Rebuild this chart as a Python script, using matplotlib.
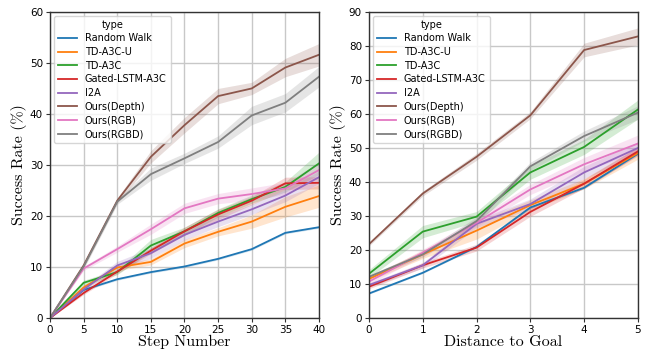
import matplotlib
matplotlib.use("Agg")
import matplotlib.pyplot as plt
import numpy as np

names = ["Random Walk", "TD-A3C-U", "TD-A3C", "Gated-LSTM-A3C", "I2A",
         "Ours(Depth)", "Ours(RGB)", "Ours(RGBD)"]
colors = ["#1f77b4", "#ff7f0e", "#2ca02c", "#d62728", "#9467bd",
          "#8c564b", "#e377c2", "#7f7f7f"]

# Left panel: success rate vs step number
steps = [0, 5, 10, 15, 20, 25, 30, 35, 40]
step_rw = [0, 5.5, 7.6, 9.0, 10.1, 11.6, 13.5, 16.7, 17.8]
step_tdu = [0, 6.0, 9.9, 11.0, 14.6, 16.9, 18.9, 21.8, 23.9]
step_td = [0, 6.9, 9.0, 14.2, 17.0, 20.6, 23.3, 25.7, 30.3]
step_gated = [0, 4.9, 9.1, 13.2, 17.0, 20.3, 23.0, 26.4, 26.5]
step_i2a = [0, 5.6, 10.3, 12.7, 16.3, 18.9, 21.3, 24.0, 27.6]
step_depth = [0, 10.3, 23.0, 31.6, 37.8, 43.5, 45.0, 49.1, 51.6]
step_rgb = [0, 9.7, 13.5, 17.4, 21.5, 23.4, 24.3, 25.4, 29.0]
step_rgbd = [0, 10.1, 22.8, 28.2, 31.3, 34.5, 39.7, 42.2, 47.3]

step_rw_err = [0, 0.2, 0.2, 0.2, 0.2, 0.2, 0.2, 0.2, 0.2]
step_tdu_err = [0, 0.4, 0.6, 0.6, 0.8, 0.8, 1.3, 2.0, 2.2]
step_td_err = [0, 0.5, 0.5, 1.2, 0.8, 0.8, 0.8, 1.0, 2.2]
step_gated_err = [0, 0.3, 0.4, 0.6, 0.8, 1.0, 0.8, 1.2, 1.2]
step_i2a_err = [0, 0.5, 0.8, 1.0, 1.0, 1.0, 1.0, 1.2, 1.2]
step_depth_err = [0, 0.5, 0.5, 1.2, 1.5, 1.5, 1.2, 1.8, 2.2]
step_rgb_err = [0, 0.4, 0.6, 1.0, 1.0, 1.0, 1.2, 1.2, 1.5]
step_rgbd_err = [0, 0.5, 0.5, 1.2, 1.0, 1.2, 1.8, 1.8, 2.0]

# Right panel: success rate vs distance to goal
dist = [0, 1, 2, 3, 4, 5]
dist_rw = [7.2, 13.3, 20.9, 32.5, 38.3, 48.3]
dist_tdu = [11.5, 18.7, 25.7, 33.2, 39.5, 48.5]
dist_td = [13.0, 25.4, 29.8, 42.8, 50.3, 61.3]
dist_gated = [9.2, 15.5, 20.7, 31.2, 39.5, 49.0]
dist_i2a = [9.7, 15.5, 27.7, 33.5, 42.8, 50.0]
dist_depth = [21.7, 36.6, 47.4, 59.6, 78.8, 82.8]
dist_rgb = [10.7, 19.2, 28.0, 37.8, 45.2, 51.3]
dist_rgbd = [12.1, 18.7, 28.5, 44.6, 53.5, 60.4]

dist_rw_err = [0.2, 0.2, 0.2, 0.3, 0.3, 0.3]
dist_tdu_err = [0.6, 1.2, 2.5, 1.5, 1.5, 1.8]
dist_td_err = [1.2, 1.8, 1.5, 2.0, 2.2, 2.8]
dist_gated_err = [0.6, 0.8, 1.0, 1.3, 1.3, 1.3]
dist_i2a_err = [0.6, 0.8, 1.2, 1.5, 1.8, 1.8]
dist_depth_err = [0.5, 0.7, 1.0, 1.0, 2.0, 2.5]
dist_rgb_err = [0.8, 1.0, 1.2, 1.5, 2.0, 2.5]
dist_rgbd_err = [0.5, 0.8, 1.2, 1.2, 1.5, 2.0]

left_series = [step_rw, step_tdu, step_td, step_gated, step_i2a, step_depth, step_rgb, step_rgbd]
left_errs = [step_rw_err, step_tdu_err, step_td_err, step_gated_err, step_i2a_err,
             step_depth_err, step_rgb_err, step_rgbd_err]
right_series = [dist_rw, dist_tdu, dist_td, dist_gated, dist_i2a, dist_depth, dist_rgb, dist_rgbd]
right_errs = [dist_rw_err, dist_tdu_err, dist_td_err, dist_gated_err, dist_i2a_err,
              dist_depth_err, dist_rgb_err, dist_rgbd_err]

fig = plt.figure(figsize=(6.45, 3.49), dpi=100)
ax1 = fig.add_axes([0.0775, 0.0888, 0.417, 0.877])
ax2 = fig.add_axes([0.572, 0.0888, 0.417, 0.877])

label_font = dict(family="cmr10", size=11.5)

def draw(ax, x, series, errs, xlim, ylim, xticks, yticks, xlabel):
    x = np.array(x, dtype=float)
    for name, c, ys, es in zip(names, colors, series, errs):
        ys = np.array(ys, dtype=float)
        es = np.array(es, dtype=float)
        ax.fill_between(x, ys - es, ys + es, color=c, alpha=0.2, lw=0)
        ax.plot(x, ys, color=c, lw=1.3, label=name)
    ax.set_xlim(*xlim)
    ax.set_ylim(*ylim)
    ax.set_xticks(xticks)
    ax.set_yticks(yticks)
    ax.grid(True, color="#c8c8c8", lw=1.0)
    ax.set_axisbelow(True)
    for s in ax.spines.values():
        s.set_color("#333333")
        s.set_linewidth(1.0)
    ax.tick_params(labelsize=7.5, length=3, color="#333333", pad=2)
    ax.set_xlabel(xlabel, fontdict=label_font, labelpad=0)
    ax.set_ylabel("Success Rate (%)", fontdict=label_font, labelpad=2)
    leg = ax.legend(loc="upper left", title="type", fontsize=7, title_fontsize=7,
                    frameon=True, fancybox=True, borderpad=0.4, labelspacing=0.38,
                    handlelength=2.0, handletextpad=0.8, borderaxespad=0.4)
    leg.get_frame().set_edgecolor("#cccccc")

draw(ax1, steps, left_series, left_errs, (0, 40), (0, 60),
     range(0, 41, 5), range(0, 61, 10), "Step Number")
draw(ax2, dist, right_series, right_errs, (0, 5), (0, 90),
     range(0, 6), range(0, 91, 10), "Distance to Goal")

fig.savefig("out.png", dpi=100)
